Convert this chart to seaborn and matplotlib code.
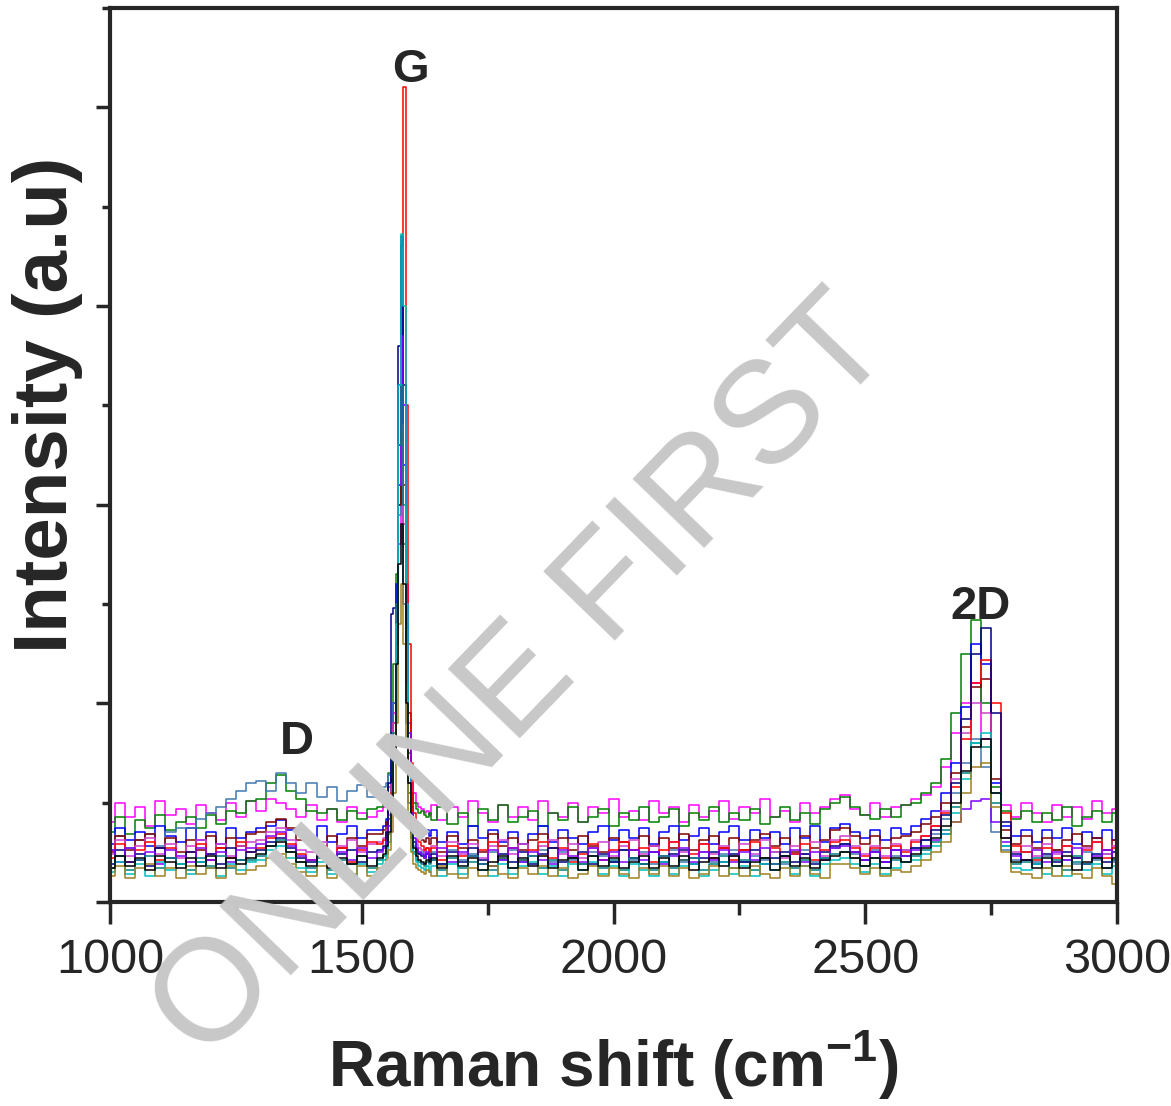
import numpy as np
import pandas as pd
import seaborn as sns
import matplotlib.pyplot as plt
from matplotlib.ticker import MultipleLocator, NullFormatter

# Raman shift grid (cm-1): 20 cm-1 steps, 5 cm-1 steps around the G band
shift = list(range(1000, 1540, 20)) + list(range(1540, 1640, 5)) + list(range(1640, 3001, 20))

# intensities, in hundredths of a y-unit
# (1000-1520 | 1540-1635 | 1640-3000)
magenta = ([40, 50, 43, 48, 38, 51, 44, 47, 39, 49, 45, 41, 50, 43, 51, 46, 52, 50, 47, 43, 49, 41, 47, 40, 48, 45, 43]
           + [46, 48, 52, 58, 70, 95, 130, 180, 230, 250, 160, 90, 60, 55, 50, 48, 47, 45, 46, 44]
           + [49, 41, 48, 43, 51, 45, 40, 49, 43, 48,
              41, 51, 45, 43, 50, 40, 48, 45, 52, 43,
              46, 41, 51, 45, 48, 40, 49, 43, 46, 51,
              42, 48, 45, 52, 43, 46, 40, 50, 45, 48,
              52, 54, 47, 44, 50, 43, 48, 49, 52, 54,
              58, 68, 85, 100, 110, 82, 55, 49, 43, 50,
              45, 40, 49, 43, 48, 42, 51, 45, 47])
green = ([35, 43, 34, 41, 37, 44, 36, 40, 43, 37, 44, 39, 46, 45, 51, 52, 60, 64, 56, 52, 46, 45, 47, 41, 46, 42, 47]
         + [48, 50, 55, 65, 85, 120, 165, 200, 210, 180, 120, 75, 55, 50, 47, 45, 46, 44, 43, 45]
         + [41, 48, 39, 45, 38, 47, 41, 49, 40, 43,
            46, 38, 45, 41, 48, 40, 43, 47, 38, 45,
            41, 48, 40, 43, 47, 38, 45, 41, 48, 40,
            45, 41, 47, 39, 43, 48, 41, 45, 39, 47,
            50, 53, 48, 44, 42, 47, 43, 49, 50, 55,
            60, 72, 95, 125, 142, 100, 58, 46, 42, 46,
            40, 45, 41, 48, 38, 43, 46, 40, 45])
blue = ([29, 37, 31, 35, 28, 38, 33, 30, 37, 31, 35, 29, 37, 32, 35, 37, 38, 41, 36, 36, 32, 38, 30, 34, 38, 32, 36]
        + [36, 38, 42, 50, 68, 100, 160, 260, 300, 220, 120, 70, 48, 42, 38, 36, 35, 34, 36, 33]
        + [36, 30, 35, 29, 38, 32, 36, 30, 35, 29,
           34, 38, 30, 36, 32, 29, 35, 38, 31, 36,
           32, 37, 29, 35, 38, 31, 33, 37, 29, 35,
           38, 31, 36, 32, 35, 29, 37, 32, 38, 30,
           37, 39, 35, 32, 36, 31, 37, 34, 38, 42,
           46, 55, 70, 98, 130, 120, 60, 38, 33, 36,
           30, 36, 32, 37, 29, 35, 32, 36, 31])
steel = ([26, 33, 27, 31, 34, 28, 35, 37, 37, 42, 45, 48, 52, 56, 60, 61, 56, 65, 60, 55, 60, 53, 58, 51, 56, 59, 53]
         + [56, 58, 60, 64, 75, 100, 150, 195, 200, 150, 90, 50, 35, 28, 26, 24, 25, 23, 24, 22]
         + [25, 19, 26, 21, 24, 19, 25, 21, 26, 20,
            23, 26, 20, 25, 21, 19, 25, 23, 20, 26,
            21, 25, 19, 23, 26, 20, 22, 25, 20, 24,
            26, 20, 23, 21, 25, 19, 24, 26, 20, 22,
            27, 29, 24, 21, 26, 20, 23, 26, 27, 31,
            34, 42, 55, 70, 82, 68, 35, 26, 21, 25,
            20, 23, 26, 21, 19, 25, 21, 24, 20])
maroon = ([25, 33, 26, 31, 34, 27, 32, 25, 31, 26, 33, 27, 32, 28, 34, 35, 40, 42, 37, 31, 31, 26, 33, 27, 32, 28, 34]
          + [34, 36, 40, 48, 62, 90, 140, 200, 235, 210, 150, 95, 55, 42, 36, 33, 31, 30, 32, 29]
          + [32, 25, 33, 27, 31, 25, 34, 28, 32, 26,
             31, 34, 27, 32, 26, 33, 28, 25, 32, 30,
             26, 33, 28, 32, 27, 34, 26, 31, 33, 27,
             32, 26, 31, 34, 28, 32, 25, 33, 27, 31,
             36, 37, 33, 29, 33, 27, 32, 33, 35, 39,
             43, 50, 65, 88, 108, 112, 62, 36, 29, 33,
             27, 32, 26, 31, 34, 28, 32, 26, 31])
orchid = ([24, 31, 23, 28, 32, 24, 29, 22, 28, 31, 24, 29, 23, 28, 30, 31, 35, 37, 31, 26, 25, 30, 23, 28, 31, 25, 29]
          + [30, 32, 36, 44, 60, 90, 150, 210, 240, 190, 110, 60, 40, 32, 29, 27, 26, 25, 27, 26]
          + [28, 23, 30, 24, 29, 22, 28, 31, 24, 29,
             23, 28, 31, 24, 29, 22, 27, 30, 23, 28,
             31, 24, 28, 23, 30, 25, 22, 29, 24, 28,
             23, 29, 24, 31, 25, 22, 28, 24, 30, 23,
             31, 33, 28, 24, 28, 23, 29, 26, 31, 33,
             38, 46, 62, 85, 100, 95, 55, 32, 25, 28,
             23, 29, 24, 28, 22, 27, 30, 24, 28])
red = ([22, 29, 20, 26, 30, 21, 27, 19, 25, 29, 21, 27, 22, 30, 25, 27, 32, 34, 29, 24, 21, 28, 22, 27, 20, 26, 30]
       + [29, 31, 35, 42, 55, 80, 130, 230, 330, 410, 250, 130, 70, 45, 35, 30, 28, 26, 27, 25]
       + [27, 21, 28, 23, 20, 26, 30, 22, 27, 21,
          26, 30, 22, 27, 20, 24, 29, 21, 26, 30,
          22, 27, 20, 26, 30, 21, 24, 29, 22, 27,
          21, 26, 30, 22, 27, 20, 24, 29, 21, 26,
          30, 31, 27, 23, 27, 22, 28, 25, 30, 33,
          38, 45, 58, 82, 110, 122, 100, 45, 28, 25,
          21, 27, 22, 28, 20, 26, 30, 22, 27])
navy = ([19, 26, 20, 24, 18, 27, 22, 19, 25, 20, 24, 19, 27, 21, 25, 26, 30, 32, 27, 22, 20, 25, 19, 24, 26, 20, 25]
        + [26, 28, 35, 60, 145, 148, 150, 280, 335, 260, 140, 70, 40, 30, 26, 24, 23, 22, 24, 21]
        + [24, 19, 25, 20, 27, 21, 18, 24, 20, 25,
           19, 24, 27, 20, 22, 25, 19, 24, 20, 26,
           22, 19, 25, 20, 24, 26, 19, 22, 25, 20,
           24, 20, 26, 19, 22, 25, 20, 24, 19, 25,
           28, 29, 25, 21, 25, 20, 26, 23, 27, 31,
           36, 44, 60, 92, 125, 138, 95, 40, 24, 21,
           19, 24, 20, 25, 22, 19, 24, 20, 25])
purple = ([26, 20, 27, 21, 25, 19, 26, 23, 20, 27, 21, 25, 20, 26, 27, 29, 33, 35, 28, 23, 21, 27, 20, 25, 21, 27, 22]
          + [25, 27, 30, 38, 52, 80, 130, 210, 285, 250, 150, 85, 45, 32, 27, 25, 24, 22, 25, 23]
          + [21, 27, 20, 25, 23, 19, 26, 21, 27, 20,
             25, 21, 19, 26, 23, 20, 27, 21, 25, 20,
             26, 21, 25, 19, 23, 27, 20, 25, 21, 26,
             20, 25, 21, 27, 19, 23, 26, 20, 25, 21,
             27, 28, 25, 21, 25, 20, 26, 23, 26, 28,
             31, 34, 40, 47, 51, 52, 40, 30, 23, 21,
             26, 20, 25, 21, 27, 19, 23, 26, 21])
teal = ([17, 23, 16, 21, 23, 17, 22, 19, 16, 22, 18, 23, 17, 21, 21, 23, 28, 31, 25, 20, 17, 22, 16, 21, 19, 23, 17]
        + [21, 23, 27, 34, 50, 85, 150, 230, 260, 200, 110, 55, 32, 25, 21, 20, 19, 18, 20, 19]
        + [21, 16, 22, 17, 23, 19, 16, 22, 17, 21,
           23, 17, 21, 16, 22, 19, 23, 17, 21, 16,
           22, 19, 16, 23, 17, 21, 22, 16, 19, 23,
           17, 21, 16, 22, 19, 23, 17, 21, 16, 22,
           24, 25, 22, 18, 22, 17, 21, 20, 23, 26,
           30, 36, 48, 65, 80, 78, 50, 28, 19, 20,
           22, 17, 21, 16, 23, 19, 22, 17, 21])
cyan = ([15, 20, 14, 19, 13, 20, 16, 19, 14, 20, 17, 13, 19, 16, 20, 21, 26, 28, 22, 17, 15, 20, 14, 18, 13, 19, 15]
        + [19, 21, 24, 30, 45, 75, 140, 260, 336, 300, 150, 70, 35, 24, 20, 18, 17, 16, 18, 15]
        + [18, 13, 19, 14, 20, 16, 13, 19, 14, 18,
           20, 14, 18, 13, 19, 16, 20, 14, 18, 13,
           19, 16, 13, 20, 14, 18, 19, 13, 16, 20,
           14, 18, 13, 19, 16, 20, 14, 18, 13, 19,
           21, 22, 19, 15, 19, 14, 17, 20, 21, 24,
           28, 34, 45, 62, 80, 85, 55, 28, 17, 16,
           19, 14, 18, 13, 20, 16, 19, 14, 18])
olive = ([13, 18, 12, 17, 19, 13, 17, 12, 18, 14, 17, 12, 18, 14, 16, 18, 22, 24, 19, 15, 13, 18, 12, 17, 14, 18, 13]
         + [17, 18, 21, 26, 35, 55, 90, 140, 160, 130, 80, 45, 25, 19, 17, 16, 15, 14, 16, 15]
         + [13, 18, 14, 12, 17, 13, 18, 14, 12, 17,
            14, 18, 13, 17, 12, 14, 18, 13, 17, 14,
            12, 17, 14, 18, 13, 17, 12, 14, 18, 13,
            17, 13, 18, 14, 12, 17, 13, 18, 14, 12,
            19, 19, 17, 14, 17, 13, 16, 15, 18, 21,
            25, 30, 40, 55, 68, 70, 48, 25, 15, 14,
            12, 17, 13, 18, 14, 12, 17, 13, 9])
black = ([17, 23, 18, 22, 16, 23, 20, 17, 22, 18, 23, 17, 22, 19, 22, 24, 28, 30, 25, 20, 18, 23, 17, 22, 19, 23, 18]
         + [22, 24, 28, 35, 50, 75, 120, 170, 190, 160, 100, 60, 35, 27, 23, 21, 20, 19, 21, 20]
         + [22, 17, 23, 18, 22, 16, 20, 23, 17, 22,
            18, 23, 17, 21, 22, 16, 23, 18, 22, 17,
            20, 23, 17, 22, 18, 23, 16, 20, 22, 18,
            23, 17, 20, 22, 16, 23, 18, 22, 17, 21,
            23, 25, 22, 18, 22, 17, 22, 20, 24, 27,
            32, 38, 50, 66, 78, 82, 55, 32, 20, 21,
            17, 22, 18, 23, 16, 20, 22, 17, 22])

series = {
    'magenta': (magenta, '#FF00FF'),
    'green': (green, '#008000'),
    'blue': (blue, '#0000FF'),
    'steel': (steel, '#3F78B0'),
    'maroon': (maroon, '#800000'),
    'orchid': (orchid, '#D040D0'),
    'red': (red, '#FF0000'),
    'navy': (navy, '#000080'),
    'purple': (purple, '#8000FF'),
    'teal': (teal, '#008080'),
    'cyan': (cyan, '#00BFBF'),
    'olive': (olive, '#A08020'),
    'black': (black, '#000000'),
}

frames = []
for name, (vals, _) in series.items():
    frames.append(pd.DataFrame({'shift': shift, 'intensity': np.array(vals) / 100, 'spot': name}))
df = pd.concat(frames, ignore_index=True)
palette = {k: c for k, (_, c) in series.items()}

sns.set_style('ticks')
plt.rcParams['font.family'] = ['Liberation Sans', 'DejaVu Sans']
plt.rcParams['mathtext.fontset'] = 'custom'
plt.rcParams['mathtext.rm'] = 'Liberation Sans'
plt.rcParams['mathtext.bf'] = 'Liberation Sans:bold'

fig = plt.figure(figsize=(11.71, 11.06), dpi=100)
ax = fig.add_axes([0.094, 0.1845, 0.86, 0.8083])

sns.lineplot(data=df, x='shift', y='intensity', hue='spot', hue_order=list(series.keys()),
             palette=palette, drawstyle='steps-mid', linewidth=1.1, legend=False,
             estimator=None, ax=ax)

ax.set_xlim(1000, 3000)
ax.set_ylim(0, 4.5)
ax.xaxis.set_major_locator(MultipleLocator(500))
ax.xaxis.set_minor_locator(MultipleLocator(250))
ax.yaxis.set_major_locator(MultipleLocator(1))
ax.yaxis.set_minor_locator(MultipleLocator(0.5))
ax.yaxis.set_major_formatter(NullFormatter())

for s in ax.spines.values():
    s.set_linewidth(3)
    s.set_visible(True)
ax.tick_params(axis='x', which='major', length=16, width=2.5, direction='out', pad=10, labelsize=35)
ax.tick_params(axis='x', which='minor', length=9, width=2.5, direction='out')
ax.tick_params(axis='y', which='major', length=10, width=2.5, direction='out')
ax.tick_params(axis='y', which='minor', length=6, width=2.5, direction='out')

ax.set_xlabel(r'Raman shift (cm$^{\mathbf{-1}}$)', fontsize=46, fontweight='bold')
ax.set_ylabel('Intensity (a.u)', fontsize=55, fontweight='bold')
ax.xaxis.set_label_coords(0.5, -0.182)
ax.xaxis.label.set_va('center')
ax.yaxis.set_label_coords(-0.062, 0.556)
ax.yaxis.label.set_va('center')

ax.text(1596, 4.19, 'G', fontsize=34, fontweight='bold', ha='center', va='center')
ax.text(1371, 0.805, 'D', fontsize=34, fontweight='bold', ha='center', va='center')
ax.text(2728, 1.485, '2D', fontsize=34, fontweight='bold', ha='center', va='center')

# watermark over the whole figure
fig.text(0.448, 0.385, 'ONLINE FIRST', fontsize=104, color='#C8C8C8', rotation=46,
         ha='center', va='center', rotation_mode='anchor', zorder=10)

fig.savefig('out.png', dpi=100)
